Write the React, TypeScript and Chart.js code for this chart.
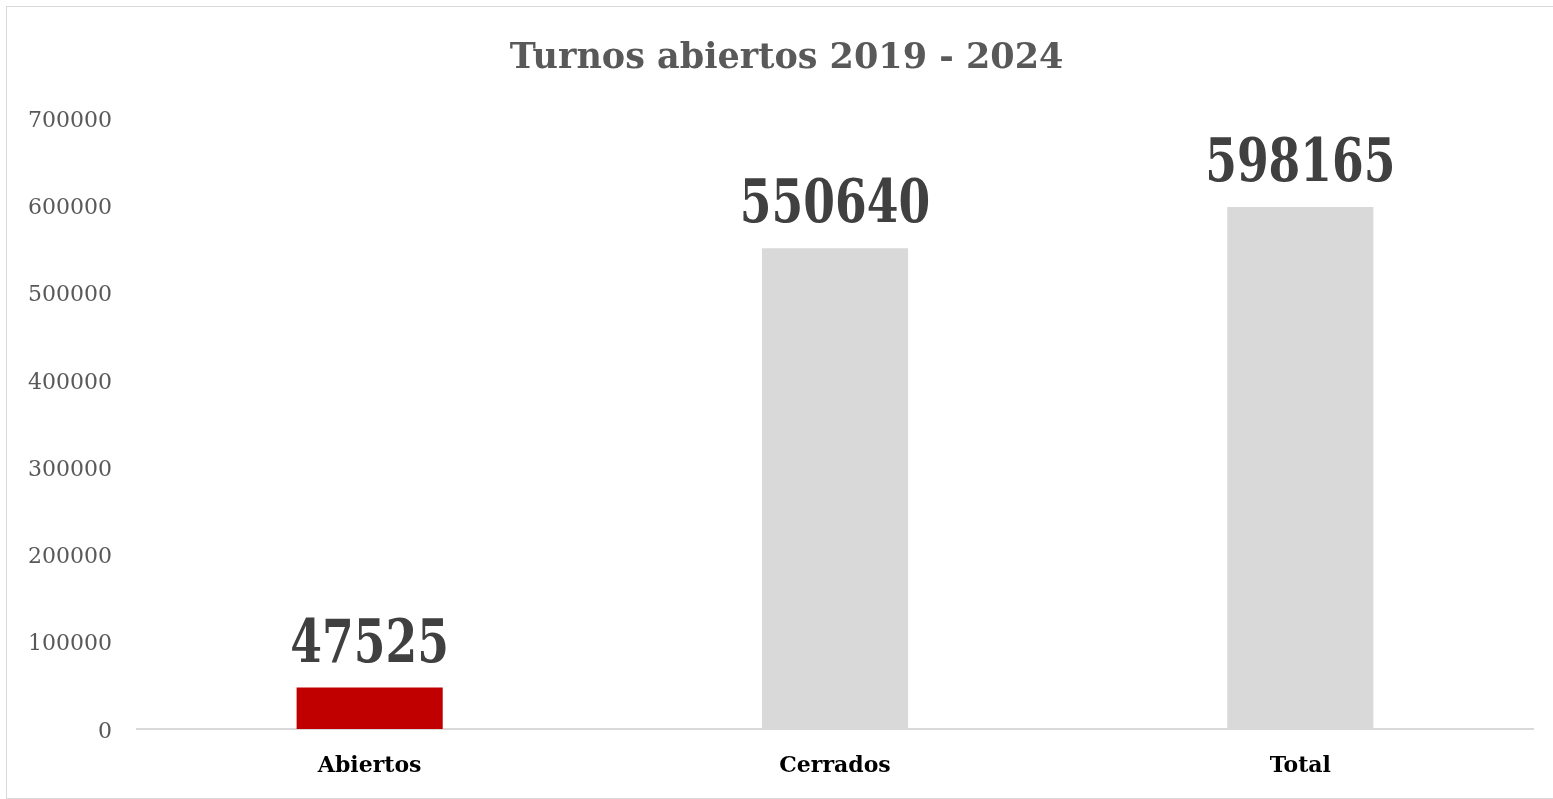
import React, { useEffect, useRef } from "react";
import { Chart, registerables } from "chart.js";

Chart.register(...registerables);

const categories = ["Abiertos", "Cerrados", "Total"];
const values = [47525, 550640, 598165];
const barColors = ["#C00000", "#D9D9D9", "#D9D9D9"];
const yTicks = [0, 100000, 200000, 300000, 400000, 500000, 600000, 700000];
const titleText = "Turnos abiertos 2019 - 2024";

const valueLabelPlugin = {
  id: "valueLabels",
  afterDatasetsDraw(chart: any) {
    const ctx = chart.ctx;
    const meta = chart.getDatasetMeta(0);
    const data = chart.data.datasets[0].data;
    meta.data.forEach((bar: any, i: number) => {
      ctx.save();
      ctx.translate(bar.x, bar.y - 26);
      ctx.scale(0.76, 1);
      ctx.font = 'bold 60px "DejaVu Serif"';
      ctx.fillStyle = "#404040";
      ctx.textAlign = "center";
      ctx.textBaseline = "alphabetic";
      ctx.fillText(String(data[i]), 0, 0);
      ctx.restore();
    });
  },
};

export default function App() {
  const ref = useRef<HTMLCanvasElement>(null);
  useEffect(() => {
    if (!ref.current) return;
    const chart = new Chart(ref.current, {
      type: "bar",
      data: {
        labels: categories,
        datasets: [
          {
            data: values,
            backgroundColor: barColors,
            borderWidth: 0,
            categoryPercentage: 1,
            barPercentage: 0.314,
            yAxisID: "y",
          },
        ],
      },
      options: {
        animation: false,
        responsive: true,
        maintainAspectRatio: false,
        layout: { padding: { left: 0, right: 0, top: 0, bottom: 0 } },
        plugins: {
          legend: { display: false },
          tooltip: { enabled: false },
          title: {
            display: true,
            text: titleText,
            color: "#595959",
            font: { family: "DejaVu Serif", size: 35, weight: "bold" },
            padding: { top: 31, bottom: 38 },
          },
        },
        scales: {
          x: {
            grid: { display: false, drawTicks: false },
            border: { display: true, color: "#D9D9D9", width: 2 },
            ticks: {
              color: "#000000",
              padding: 24,
              font: { family: "DejaVu Serif", size: 22, weight: "bold" },
            },
            afterFit(scale: any) {
              scale.height = 69;
            },
          },
          y: {
            min: 0,
            max: 700000,
            grid: { display: false, drawTicks: false },
            border: { display: false },
            afterBuildTicks(scale: any) {
              scale.ticks = yTicks.map((v) => ({ value: v }));
            },
            ticks: {
              color: "#595959",
              padding: 25,
              labelOffset: 3,
              font: { family: "DejaVu Serif", size: 22 },
              callback: (v: any) => String(v),
            },
            afterFit(scale: any) {
              scale.width = 130;
            },
          },
          yRight: {
            position: "right",
            min: 0,
            max: 700000,
            grid: { display: false, drawTicks: false },
            border: { display: false },
            ticks: { display: false },
            afterFit(scale: any) {
              scale.width = 33;
            },
          },
        },
      },
      plugins: [valueLabelPlugin],
    });
    return () => chart.destroy();
  }, []);

  return (
    <div
      style={{
        position: "fixed",
        left: 0,
        top: 0,
        width: "100vw",
        height: "100vh",
        overflow: "hidden",
        background: "#fff",
      }}
    >
      <div
        style={{
          position: "absolute",
          left: 6,
          top: 6,
          width: 1560,
          height: 793,
          boxSizing: "border-box",
          borderTop: "1px solid #D9D9D9",
          borderLeft: "1px solid #D9D9D9",
          borderBottom: "1px solid #D9D9D9",
          borderRight: "none",
        }}
      >
        <div style={{ position: "relative", width: 1559, height: 791 }}>
          <canvas ref={ref} />
        </div>
      </div>
    </div>
  );
}
